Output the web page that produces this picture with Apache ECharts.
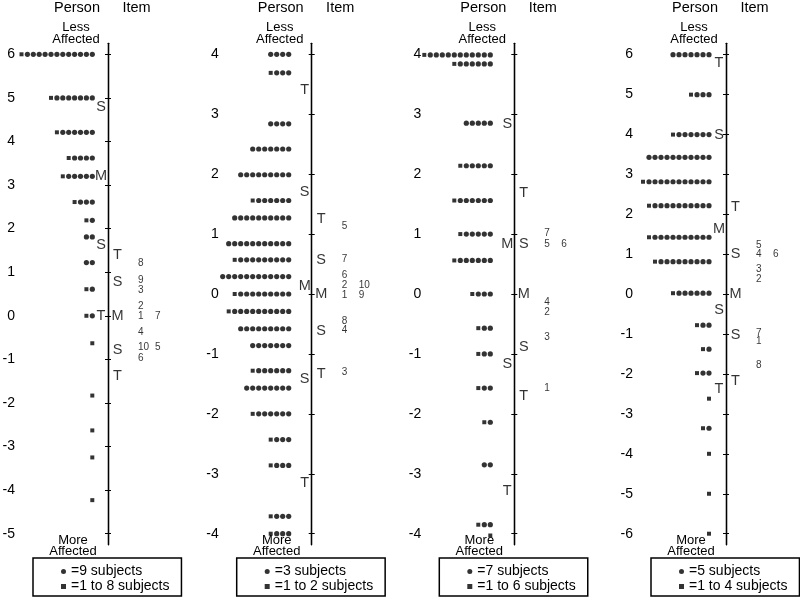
<!DOCTYPE html>
<html><head><meta charset="utf-8">
<script src="https://cdn.jsdelivr.net/npm/echarts@6/dist/echarts.min.js"></script>
<style>html,body{margin:0;padding:0;background:#fff}#c{width:800px;height:599px}</style>
</head><body><div id="c"></div>
<script>
// ---------- Panel 1 ----------
const p1Range = [-5, 6];
const p1Measures = [6.0, 5.0, 4.21, 3.62, 3.20, 2.61, 2.19, 1.81, 1.22, 0.61, 0.0, -0.63, -1.83, -2.63, -3.25, -4.23];
const p1Circles  = [12, 7, 6, 4, 5, 3, 1, 2, 2, 1, 1, 0, 0, 0, 0, 0];
const p1Squares  = [1, 1, 1, 1, 1, 1, 1, 0, 0, 1, 1, 1, 1, 1, 1, 1];
const p1ItemNames    = ['8', '9', '3', '2', '1', '7', '4', '10', '5', '6'];
const p1ItemMeasures = [1.20, 0.82, 0.59, 0.21, 0.0, 0.0, -0.37, -0.72, -0.72, -0.98];
const p1PersonMarkLabels = ['S', 'M', 'S', 'T'];
const p1PersonMarkValues = [4.78, 3.20, 1.62, 0.0];
const p1ItemMarkLabels = ['T', 'S', 'M', 'S', 'T'];
const p1ItemMarkValues = [1.39, 0.78, 0.0, -0.78, -1.39];
const p1Legend = ['=9 subjects', '=1 to 8 subjects'];

// ---------- Panel 2 ----------
const p2Range = [-4, 4];
const p2Measures = [4.0, 3.69, 2.84, 2.42, 1.99, 1.56, 1.27, 0.84, 0.57, 0.29, 0.0, -0.29, -0.58, -0.86, -1.28, -1.57, -2.0, -2.43, -2.86, -3.71, -4.0];
const p2Circles  = [4, 3, 4, 7, 9, 6, 10, 11, 9, 12, 9, 10, 9, 7, 6, 8, 6, 3, 3, 3, 3];
const p2Squares  = [0, 1, 0, 0, 0, 1, 0, 0, 1, 0, 1, 1, 0, 0, 1, 0, 1, 1, 1, 1, 1];
const p2ItemNames    = ['5', '7', '6', '2', '10', '1', '9', '8', '4', '3'];
const p2ItemMeasures = [1.13, 0.58, 0.31, 0.14, 0.14, -0.02, -0.02, -0.45, -0.60, -1.30];
const p2PersonMarkLabels = ['T', 'S', 'M', 'S', 'T'];
const p2PersonMarkValues = [3.41, 1.70, 0.14, -1.42, -3.16];
const p2ItemMarkLabels = ['T', 'S', 'M', 'S', 'T'];
const p2ItemMarkValues = [1.25, 0.56, 0.0, -0.61, -1.33];
const p2Legend = ['=3 subjects', '=1 to 2 subjects'];

// ---------- Panel 3 ----------
const p3Range = [-4, 4];
const p3Measures = [3.99, 3.84, 2.85, 2.14, 1.56, 1.0, 0.56, 0.0, -0.57, -1.0, -1.57, -2.14, -2.85, -3.85, -4.03];
const p3Circles  = [11, 6, 5, 5, 6, 5, 6, 3, 2, 2, 2, 1, 2, 2, 0];
const p3Squares  = [1, 1, 0, 1, 1, 1, 1, 1, 1, 1, 1, 1, 0, 1, 1];
const p3ItemNames    = ['7', '5', '6', '4', '2', '3', '1'];
const p3ItemMeasures = [1.01, 0.83, 0.83, -0.14, -0.31, -0.72, -1.58];
const p3PersonMarkLabels = ['S', 'M', 'S', 'T'];
const p3PersonMarkValues = [2.84, 0.83, -1.17, -3.28];
const p3ItemMarkLabels = ['T', 'S', 'M', 'S', 'T'];
const p3ItemMarkValues = [1.68, 0.83, 0.0, -0.88, -1.71];
const p3Legend = ['=7 subjects', '=1 to 6 subjects'];

// ---------- Panel 4 ----------
const p4Range = [-6, 6];
const p4Measures = [5.99, 4.99, 3.99, 3.42, 2.81, 2.21, 1.42, 0.81, 0.02, -0.78, -1.38, -1.98, -2.62, -3.36, -4.0, -5.0, -6.0];
const p4Circles  = [7, 3, 6, 11, 11, 10, 10, 9, 6, 2, 1, 2, 0, 1, 0, 0, 0];
const p4Squares  = [0, 1, 1, 0, 1, 1, 1, 1, 1, 1, 1, 1, 1, 1, 1, 1, 1];
const p4ItemNames    = ['5', '4', '6', '3', '2', '7', '1', '8'];
const p4ItemMeasures = [1.22, 1.0, 1.0, 0.63, 0.38, -0.97, -1.19, -1.78];
const p4PersonMarkLabels = ['T', 'S', 'M', 'S', 'T'];
const p4PersonMarkValues = [5.77, 3.99, 1.62, -0.40, -2.38];
const p4ItemMarkLabels = ['T', 'S', 'M', 'S', 'T'];
const p4ItemMarkValues = [2.18, 1.0, 0.0, -1.02, -2.19];
const p4Legend = ['=5 subjects', '=1 to 4 subjects'];

// ---------- layout (styles / positions only) ----------
const FONT = "'Liberation Sans', Arial, Helvetica, sans-serif";
const axisXs = [108, 311.7, 514.3, 726];
const dotEnd = [15.7, 23, 24, 17];
const dotStep = [5.9, 6.0, 6.0, 6.0];
const GRID_TOP = 43.3, GRID_H = 501.4;
const X_MIN = -100, X_MAX = 75;

const panels = [
  {range: p1Range, m: p1Measures, c: p1Circles, s: p1Squares, inames: p1ItemNames, imeas: p1ItemMeasures,
   pml: p1PersonMarkLabels, pmv: p1PersonMarkValues, iml: p1ItemMarkLabels, imv: p1ItemMarkValues, legend: p1Legend},
  {range: p2Range, m: p2Measures, c: p2Circles, s: p2Squares, inames: p2ItemNames, imeas: p2ItemMeasures,
   pml: p2PersonMarkLabels, pmv: p2PersonMarkValues, iml: p2ItemMarkLabels, imv: p2ItemMarkValues, legend: p2Legend},
  {range: p3Range, m: p3Measures, c: p3Circles, s: p3Squares, inames: p3ItemNames, imeas: p3ItemMeasures,
   pml: p3PersonMarkLabels, pmv: p3PersonMarkValues, iml: p3ItemMarkLabels, imv: p3ItemMarkValues, legend: p3Legend},
  {range: p4Range, m: p4Measures, c: p4Circles, s: p4Squares, inames: p4ItemNames, imeas: p4ItemMeasures,
   pml: p4PersonMarkLabels, pmv: p4PersonMarkValues, iml: p4ItemMarkLabels, imv: p4ItemMarkValues, legend: p4Legend}
];

const grids = [], xAxes = [], yAxes = [], series = [], legends = [], graphics = [];

panels.forEach((p, gi) => {
  const ax = axisXs[gi];
  const lo = p.range[0], hi = p.range[1];
  const ext = (hi - lo) * 11 / 479.7;
  const ticks = [];
  for (let v = lo; v <= hi; v++) ticks.push(v);

  grids.push({left: ax + X_MIN, top: GRID_TOP, width: X_MAX - X_MIN, height: GRID_H, containLabel: false, outerBoundsMode: 'none'});
  // two identical hidden x axes so that two y axes can sit on x = 0
  xAxes.push({gridIndex: gi, type: 'value', min: X_MIN, max: X_MAX, show: false});
  xAxes.push({gridIndex: gi, type: 'value', min: X_MIN, max: X_MAX, show: false});
  const base = {gridIndex: gi, type: 'value', min: lo - ext, max: hi + ext, splitLine: {show: false}};
  yAxes.push(Object.assign({}, base, {
    position: 'left', offset: -9,
    axisLine: {show: false, onZero: false}, axisTick: {show: false},
    axisLabel: {show: true, customValues: ticks, margin: 2, color: '#000', fontSize: 14, fontFamily: FONT}
  }));
  yAxes.push(Object.assign({}, base, {
    position: 'left',
    axisLine: {show: true, onZero: true, onZeroAxisIndex: gi * 2, lineStyle: {color: '#000', width: 1.3}},
    axisTick: {show: true, inside: false, length: 3, customValues: ticks, lineStyle: {color: '#000', width: 1}},
    axisLabel: {show: false}
  }));
  yAxes.push(Object.assign({}, base, {
    position: 'left',
    axisLine: {show: true, onZero: true, onZeroAxisIndex: gi * 2 + 1, lineStyle: {color: '#000', width: 1.3}},
    axisTick: {show: true, inside: true, length: 3, customValues: ticks, lineStyle: {color: '#000', width: 1}},
    axisLabel: {show: false}
  }));

  const circ = [], sq = [];
  p.m.forEach((y, i) => {
    for (let k = 0; k < p.c[i]; k++) circ.push([-(dotEnd[gi] + k * dotStep[gi]), y]);
    for (let k = 0; k < p.s[i]; k++) sq.push([-(dotEnd[gi] + (p.c[i] + k) * dotStep[gi]), y]);
  });
  const common = {xAxisIndex: gi * 2, yAxisIndex: gi * 3, silent: true, animation: false};
  series.push(Object.assign({}, common, {type: 'scatter', name: p.legend[0], symbol: 'circle', symbolSize: 5.2,
    itemStyle: {color: '#000'}, data: circ}));
  series.push(Object.assign({}, common, {type: 'scatter', name: p.legend[1], symbol: 'rect', symbolSize: 4,
    itemStyle: {color: '#000'}, data: sq}));

  const markLabel = {show: true, position: 'inside', formatter: '{b}', color: '#000', fontSize: 14.5, fontFamily: FONT};
  series.push(Object.assign({}, common, {type: 'scatter', symbolSize: 1, itemStyle: {color: 'rgba(0,0,0,0)'},
    label: markLabel, data: p.pml.map((t, i) => ({name: t, value: [-7, p.pmv[i]]}))}));
  series.push(Object.assign({}, common, {type: 'scatter', symbolSize: 1, itemStyle: {color: 'rgba(0,0,0,0)'},
    label: markLabel, data: p.iml.map((t, i) => ({name: t, value: [9.5, p.imv[i]]}))}));

  const colX = [30, 47];
  const itemData = p.inames.map((nm, i) => {
    let col = 0;
    for (let j = 0; j < i; j++) if (p.imeas[j] === p.imeas[i]) col++;
    return {name: nm, value: [colX[Math.min(col, 1)], p.imeas[i]]};
  });
  series.push(Object.assign({}, common, {type: 'scatter', symbolSize: 1, itemStyle: {color: 'rgba(0,0,0,0)'},
    label: {show: true, position: 'inside', align: 'left', formatter: '{b}', color: '#000', fontSize: 10, fontFamily: FONT},
    data: itemData}));

  legends.push({
    left: ax - 75, top: 558, orient: 'vertical', selectedMode: false,
    data: [{name: p.legend[0], icon: 'circle'}, {name: p.legend[1], icon: 'rect'}],
    itemWidth: 5, itemHeight: 5, itemGap: 0,
    textStyle: {color: '#000', fontSize: 14, lineHeight: 15, fontFamily: FONT},
    borderColor: '#000', borderWidth: 1.5, padding: [6, 12, 2, 28], backgroundColor: '#fff'
  });

  const txt = (s, x, y, size, lh) => ({type: 'text', x: x, y: y, silent: true,
    style: {text: s, fill: '#000', fontSize: size, fontFamily: FONT, lineHeight: lh,
      align: 'center', verticalAlign: 'middle', textAlign: 'center', textVerticalAlign: 'middle'}});
  graphics.push(txt('Person', ax - 31, 8, 14.5, 16));
  graphics.push(txt('Item', ax + 28.5, 8, 14.5, 16));
  graphics.push(txt('Less\nAffected', ax - 32, 33.5, 13, 11.5));
  graphics.push(txt('More\nAffected', ax - 35, 546, 13, 11.5));
});

const chart = echarts.init(document.getElementById('c'), null, {renderer: 'canvas'});
chart.setOption({
  backgroundColor: '#fff',
  animation: false,
  grid: grids, xAxis: xAxes, yAxis: yAxes, series: series, legend: legends, graphic: graphics
});
</script>
</body></html>
